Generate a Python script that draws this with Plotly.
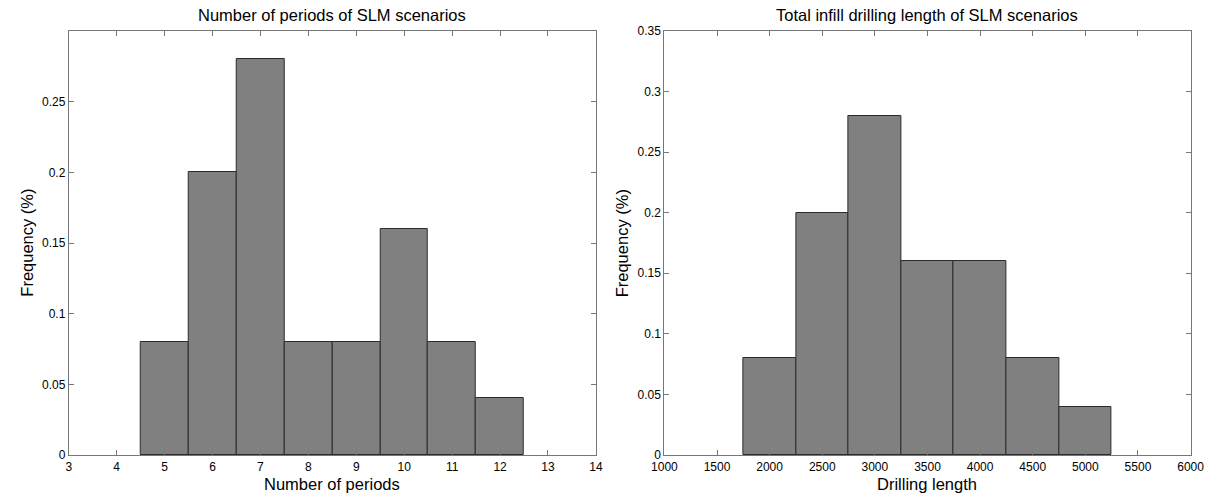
import plotly.graph_objects as go

# Left histogram: number of periods
periods_centers = [5, 6, 7, 8, 9, 10, 11, 12]
periods_freq = [0.08, 0.20, 0.28, 0.08, 0.08, 0.16, 0.08, 0.04]
periods_xticks = list(range(3, 15))
periods_yticks = [0, 0.05, 0.1, 0.15, 0.2, 0.25]

# Right histogram: drilling length
length_centers = [2000, 2500, 3000, 3500, 4000, 4500, 5000]
length_freq = [0.08, 0.20, 0.28, 0.16, 0.16, 0.08, 0.04]
length_xticks = list(range(1000, 6001, 500))
length_yticks = [0, 0.05, 0.1, 0.15, 0.2, 0.25, 0.3, 0.35]

W, H = 1230, 497
ML, MR, MT, MB = 0, 0, 31, 42
L1, R1 = 57, 596
L2, R2 = 666, 1204

def px_x(p):
    return p / W

def px_y(p):
    return (H - MB - p) / (H - MT - MB)

FONT = "Liberation Sans, Arial, sans-serif"
BAR = "#808080"
EDGE = "#2b2b2b"
AX = "#777777"

fig = go.Figure()
fig.add_trace(go.Bar(x=periods_centers, y=periods_freq, width=1.0,
                     marker=dict(color=BAR, line=dict(color=EDGE, width=1)),
                     xaxis="x", yaxis="y", showlegend=False))
fig.add_trace(go.Bar(x=length_centers, y=length_freq, width=500,
                     marker=dict(color=BAR, line=dict(color=EDGE, width=1)),
                     xaxis="x2", yaxis="y2", showlegend=False))

axis_common = dict(showline=True, linecolor=AX, linewidth=1, mirror="ticks",
                   ticks="inside", ticklen=5, tickcolor=AX, tickwidth=1,
                   showgrid=False, zeroline=False,
                   tickfont=dict(family=FONT, size=12, color="#000"))

fig.update_layout(
    width=W, height=H,
    margin=dict(l=ML, r=MR, t=MT, b=MB),
    paper_bgcolor="white", plot_bgcolor="white",
    bargap=0,
    xaxis=dict(domain=[px_x(L1), px_x(R1)], range=[3, 14], anchor="y",
               tickvals=periods_xticks, ticktext=[str(v) for v in periods_xticks],
               ticklabelstandoff=1, **axis_common),
    yaxis=dict(domain=[0, 1], range=[0, 0.3], anchor="x",
               tickvals=periods_yticks, ticktext=[f"{v:g}" for v in periods_yticks],
               **axis_common),
    xaxis2=dict(domain=[px_x(L2), px_x(R2)], range=[1000, 6000], anchor="y2",
                tickvals=length_xticks, ticktext=[str(v) for v in length_xticks],
                ticklabelstandoff=1, **axis_common),
    yaxis2=dict(domain=[0, 1], range=[0, 0.35], anchor="x2",
                tickvals=length_yticks, ticktext=[f"{v:g}" for v in length_yticks],
                **axis_common),
)

ann = []
def add_text(text, xp, yp, size, angle=0):
    ann.append(dict(text=text, x=px_x(xp), y=px_y(yp), xref="paper", yref="paper",
                    showarrow=False, xanchor="center", yanchor="middle",
                    textangle=angle, font=dict(family=FONT, size=size, color="#000")))

add_text("Number of periods of SLM scenarios", (L1 + R1) / 2, 15, 16.5)
add_text("Total infill drilling length of SLM scenarios", (L2 + R2) / 2, 15, 16.5)
add_text("Number of periods", (L1 + R1) / 2, 484, 16.5)
add_text("Drilling length", (L2 + R2) / 2, 484, 16.5)
add_text("Frequency (%)", 14, 243, 16.5, -90)
add_text("Frequency (%)", 623, 243, 16.5, -90)
fig.update_layout(annotations=ann)

fig.write_html("out.html")
